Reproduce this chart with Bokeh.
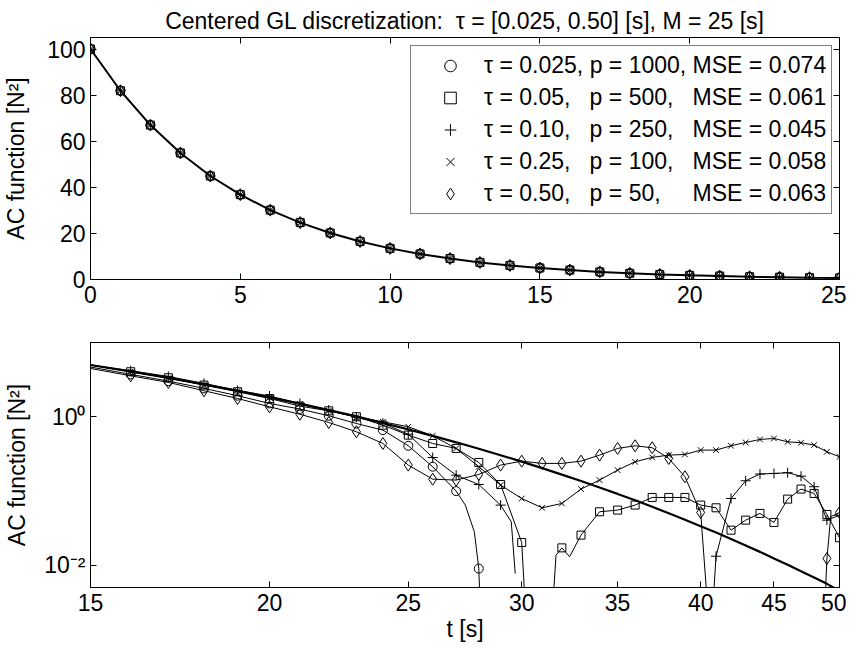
import math
from bokeh.plotting import figure
from bokeh.layouts import column
from bokeh.models import (Legend, LegendItem, FixedTicker, LinearAxis, LogAxis,
                          CustomJSTickFormatter, GlobalInlineStyleSheet)
from bokeh.embed import file_html
from bokeh.resources import INLINE

NAN = float("nan")
FONT = "Liberation Sans"
FS = "23px"

# ---------------- data ----------------
# top panel (all five estimates coincide with the exact AC function)
top_t = list(range(0, 26))
top_ac = [100.0, 81.9, 67.0, 54.9, 44.9, 36.8, 30.1, 24.7, 20.2, 16.5, 13.5, 11.1,
          9.1, 7.4, 6.1, 5.0, 4.1, 3.3, 2.7, 2.2, 1.8, 1.5, 1.2, 1.0, 0.8, 0.7]

# bottom panel: exact AC function (thick line)
exact_t = list(range(15, 51))
exact_ac = [4.98, 4.08, 3.34, 2.73, 2.24, 1.83, 1.50, 1.23, 1.01, 0.823, 0.674, 0.552,
            0.452, 0.370, 0.303, 0.248, 0.203, 0.166, 0.136, 0.111, 0.0912, 0.0747,
            0.0611, 0.0500, 0.0410, 0.0335, 0.0275, 0.0225, 0.0184, 0.0151, 0.0123,
            0.0101, 0.0083, 0.0068, 0.0056, 0.0045]

# tau = 0.025 (circles)
c_t = [16, 17, 18, 19, 20, 21, 22, 23, 24, 25, 26, 27, 28]
c_v = [3.72, 3.02, 2.41, 1.92, 1.51, 1.27, 1.03, 0.81, 0.66, 0.406, 0.212, 0.0995, 0.0090]
c_lt = [15, 16, 17, 18, 19, 20, 21, 22, 23, 24, 25, 26, 27, 27.4, 27.8, 28, 28.08]
c_lv = [4.67, 3.72, 3.02, 2.41, 1.92, 1.51, 1.27, 1.03, 0.81, 0.66, 0.406, 0.212, 0.0995,
        0.0644, 0.0282, 0.0090, 0.002]

# tau = 0.05 (squares)
s_t = [16, 17, 18, 19, 20, 21, 22, 23, 24, 25, 26, 27, 28, 29, 30,
       32, 33, 34, 35, 36, 37, 38, 39, 40, 41, 42, 43, 44, 45, 46, 47, 48, 49, 50]
s_v = [4.04, 3.35, 2.67, 2.17, 1.76, 1.39, 1.20, 1.0, 0.77, 0.565, 0.436, 0.374, 0.242,
       0.122, 0.0202,
       0.0171, 0.0254, 0.0524, 0.0552, 0.0645, 0.0817, 0.0817, 0.0817, 0.0645, 0.0593,
       0.0296, 0.0404, 0.0498, 0.0376, 0.0776, 0.106, 0.0925, 0.0482, 0.0234]
s_lt = [15, 16, 17, 18, 19, 20, 21, 22, 23, 24, 25, 26, 27, 28, 29, 30, 30.2, NAN,
        31.5, 31.7, 32, 32.4, 33, 34, 35, 36, 37, 38, 39, 40, 41, 42, 43, 44, 45, 46,
        47, 48, 49, 50]
s_lv = [4.97, 4.04, 3.35, 2.67, 2.17, 1.76, 1.39, 1.20, 1.0, 0.77, 0.565, 0.436, 0.374,
        0.242, 0.122, 0.0202, 0.002, NAN,
        0.002, 0.0136, 0.0171, 0.013, 0.0254, 0.0524, 0.0552, 0.0645, 0.0817, 0.0817,
        0.0817, 0.0645, 0.0593, 0.0296, 0.0404, 0.0498, 0.0376, 0.0776, 0.106, 0.0925,
        0.0482, 0.0234]

# tau = 0.10 (plus)
p_t = [16, 17, 18, 19, 20, 21, 22, 23, 24, 25, 26, 27, 28, 29,
       41, 42, 43, 44, 45, 46, 47, 48, 49, 50]
p_v = [4.16, 3.49, 2.81, 2.26, 1.90, 1.51, 1.23, 0.98, 0.82, 0.58, 0.282, 0.163, 0.122,
       0.0644,
       0.0132, 0.0792, 0.137, 0.169, 0.172, 0.176, 0.158, 0.114, 0.0404, 0.0470]
p_lt = [15, 16, 17, 18, 19, 20, 21, 22, 23, 24, 25, 26, 27, 28, 29, 29.5, 29.69, NAN,
        40.75, 41, 42, 43, 44, 45, 46, 47, 48, 49, 50]
p_lv = [4.97, 4.16, 3.49, 2.81, 2.26, 1.90, 1.51, 1.23, 0.98, 0.82, 0.58, 0.282, 0.163,
        0.122, 0.0644, 0.0384, 0.0077, NAN,
        0.002, 0.0132, 0.0792, 0.137, 0.169, 0.172, 0.176, 0.158, 0.114, 0.0404, 0.0470]

# tau = 0.25 (x)
x_t = list(range(16, 51))
x_v = [4.03, 3.31, 2.70, 2.22, 1.80, 1.48, 1.20, 0.99, 0.855, 0.733, 0.553, 0.374, 0.212,
       0.12, 0.079, 0.0593, 0.0678, 0.106, 0.140, 0.191, 0.247, 0.283, 0.304, 0.310,
       0.355, 0.355, 0.406, 0.450, 0.494, 0.509, 0.459, 0.446, 0.415, 0.337, 0.288]
x_lt = [15] + x_t
x_lv = [4.97] + x_v

# tau = 0.50 (diamonds)
d_t = [16, 17, 18, 19, 20, 21, 22, 23, 24, 25, 26, 27, 28, 29, 30, 31, 32, 33, 34, 35,
       36, 37, 38, 39, 40, 49, 50]
d_v = [3.56, 2.90, 2.24, 1.76, 1.36, 1.08, 0.837, 0.627, 0.436, 0.223, 0.144, 0.140,
       0.167, 0.223, 0.252, 0.235, 0.235, 0.252, 0.304, 0.374, 0.406, 0.382, 0.274,
       0.155, 0.0513, 0.0123, 0.0513]
d_lt = [15, 16, 17, 18, 19, 20, 21, 22, 23, 24, 25, 26, 27, 28, 29, 30, 31, 32, 33, 34,
        35, 36, 37, 38, 39, 40, 40.5, NAN, 48.8, 49, 49.3, 50]
d_lv = [4.47, 3.56, 2.90, 2.24, 1.76, 1.36, 1.08, 0.837, 0.627, 0.436, 0.223, 0.144,
        0.140, 0.167, 0.223, 0.252, 0.235, 0.235, 0.252, 0.304, 0.374, 0.406, 0.382,
        0.274, 0.155, 0.0513, 0.002, NAN, 0.002, 0.0123, 0.045, 0.0513]

NB = "\u00a0"
legend_labels = [
    "τ = 0.025, p = 1000, MSE = 0.074",
    "τ = 0.05," + NB * 3 + "p = 500," + NB * 3 + "MSE = 0.061",
    "τ = 0.10," + NB * 3 + "p = 250," + NB * 3 + "MSE = 0.045",
    "τ = 0.25," + NB * 3 + "p = 100," + NB * 3 + "MSE = 0.058",
    "τ = 0.50," + NB * 3 + "p = 50," + NB * 5 + "MSE = 0.063",
]
top_x_ticks = [0, 5, 10, 15, 20, 25]
top_y_ticks = [0, 20, 40, 60, 80, 100]
bot_x_ticks = [15, 20, 25, 30, 35, 40, 45, 50]
bot_y_ticks = [0.01, 1]

# styles
markers = ["circle", "square", "cross", "x", "diamond"]
msizes = [9, 8, 10, 8, 12]


def style_axis(ax, labels=True):
    ax.axis_line_color = "black"
    ax.axis_line_width = 1
    ax.major_tick_line_color = "black"
    ax.major_tick_line_width = 1
    ax.major_tick_in = 6
    ax.major_tick_out = 0
    ax.minor_tick_line_color = None
    ax.major_label_text_font = FONT
    ax.axis_label_text_font = FONT
    ax.axis_label_text_font_size = FS
    ax.axis_label_text_font_style = "normal"
    ax.axis_label_text_color = "black"
    if labels:
        ax.major_label_text_color = "black"
        ax.major_label_text_font_size = FS
        ax.major_label_standoff = 5
    else:
        ax.major_label_text_color = None
        ax.major_label_text_font_size = "1px"
        ax.major_label_standoff = 0


# ---------------- top panel ----------------
p1 = figure(width=846, height=312, x_range=(0, 25), y_range=(0, 105),
            output_backend="svg", toolbar_location=None,
            min_border_left=84, min_border_right=7, min_border_top=37, min_border_bottom=33)
p1.title.text = "Centered GL discretization:" + NB + " τ = [0.025, 0.50] [s], M = 25 [s]"
p1.title.align = "center"
p1.title.text_font = FONT
p1.title.text_font_size = FS
p1.title.text_font_style = "normal"
p1.title.text_color = "black"
p1.title.standoff = 8
p1.grid.visible = False
p1.outline_line_color = "black"

ax_b1 = p1.below[0]
ax_l1 = p1.left[0]
ax_b1.ticker = FixedTicker(ticks=top_x_ticks)
ax_l1.ticker = FixedTicker(ticks=top_y_ticks)
ax_l1.axis_label = "AC function [N²]"
ax_r1 = LinearAxis(ticker=FixedTicker(ticks=top_y_ticks))
ax_a1 = LinearAxis(ticker=FixedTicker(ticks=top_x_ticks))
p1.add_layout(ax_r1, "right")
p1.add_layout(ax_a1, "above")
style_axis(ax_b1, True)
style_axis(ax_l1, True)
style_axis(ax_r1, False)
style_axis(ax_a1, False)
ax_l1.axis_label_standoff = 15
ax_b1.major_label_standoff = 6

p1.line(top_t, top_ac, line_color="black", line_width=2)
top_rs = []
for m, s in zip(markers, msizes):
    r = p1.scatter(top_t, top_ac, marker=m, size=s, line_color="black",
                   fill_color=None, line_width=1)
    top_rs.append(r)

leg = Legend(items=[LegendItem(label=lab, renderers=[r]) for lab, r in zip(legend_labels, top_rs)],
             location=(320, 65))
leg.margin = 0
leg.padding = 5
leg.spacing = 3
leg.glyph_width = 68
leg.glyph_height = 29
leg.label_height = 29
leg.label_standoff = 0
leg.label_text_font = FONT
leg.label_text_font_size = FS
leg.label_text_color = "black"
leg.border_line_color = "black"
leg.border_line_width = 1
leg.background_fill_color = "white"
leg.background_fill_alpha = 1
p1.add_layout(leg)

# ---------------- bottom panel ----------------
p2 = figure(width=846, height=337, x_axis_type="log", y_axis_type="log",
            x_range=(15, 50), y_range=(0.005, 10),
            output_backend="svg", toolbar_location=None,
            min_border_left=84, min_border_right=7, min_border_top=30, min_border_bottom=62)
p2.grid.visible = False
p2.outline_line_color = "black"
ax_b2 = p2.below[0]
ax_l2 = p2.left[0]
ax_b2.ticker = FixedTicker(ticks=bot_x_ticks)
ax_l2.ticker = FixedTicker(ticks=bot_y_ticks)
ax_b2.formatter = CustomJSTickFormatter(code="return tick.toFixed(0);")
ax_l2.formatter = CustomJSTickFormatter(code="return tick < 0.1 ? '10\u207b\u00b2' : '10\u2070';")
ax_b2.axis_label = "t [s]"
ax_l2.axis_label = "AC function [N²]"
ax_r2 = LogAxis(ticker=FixedTicker(ticks=bot_y_ticks))
ax_a2 = LogAxis(ticker=FixedTicker(ticks=bot_x_ticks))
p2.add_layout(ax_r2, "right")
p2.add_layout(ax_a2, "above")
style_axis(ax_b2, True)
style_axis(ax_l2, True)
style_axis(ax_r2, False)
style_axis(ax_a2, False)
ax_b2.major_label_standoff = 6
ax_b2.axis_label_standoff = 2
ax_l2.axis_label_standoff = 11

p2.line(exact_t, exact_ac, line_color="black", line_width=2.2)
series = [(c_t, c_v, c_lt, c_lv), (s_t, s_v, s_lt, s_lv), (p_t, p_v, p_lt, p_lv),
          (x_t, x_v, x_lt, x_lv), (d_t, d_v, d_lt, d_lv)]
for (mt, mv, lt, lv), m, s in zip(series, markers, msizes):
    p2.line(lt, lv, line_color="black", line_width=1)
    p2.scatter(mt, mv, marker=m, size=s, line_color="black", fill_color=None, line_width=1)

layout = column(p1, p2, spacing=0)
layout.stylesheets = [GlobalInlineStyleSheet(css="html, body { overflow: hidden; }")]

open("out.html", "w").write(file_html(layout, INLINE))
